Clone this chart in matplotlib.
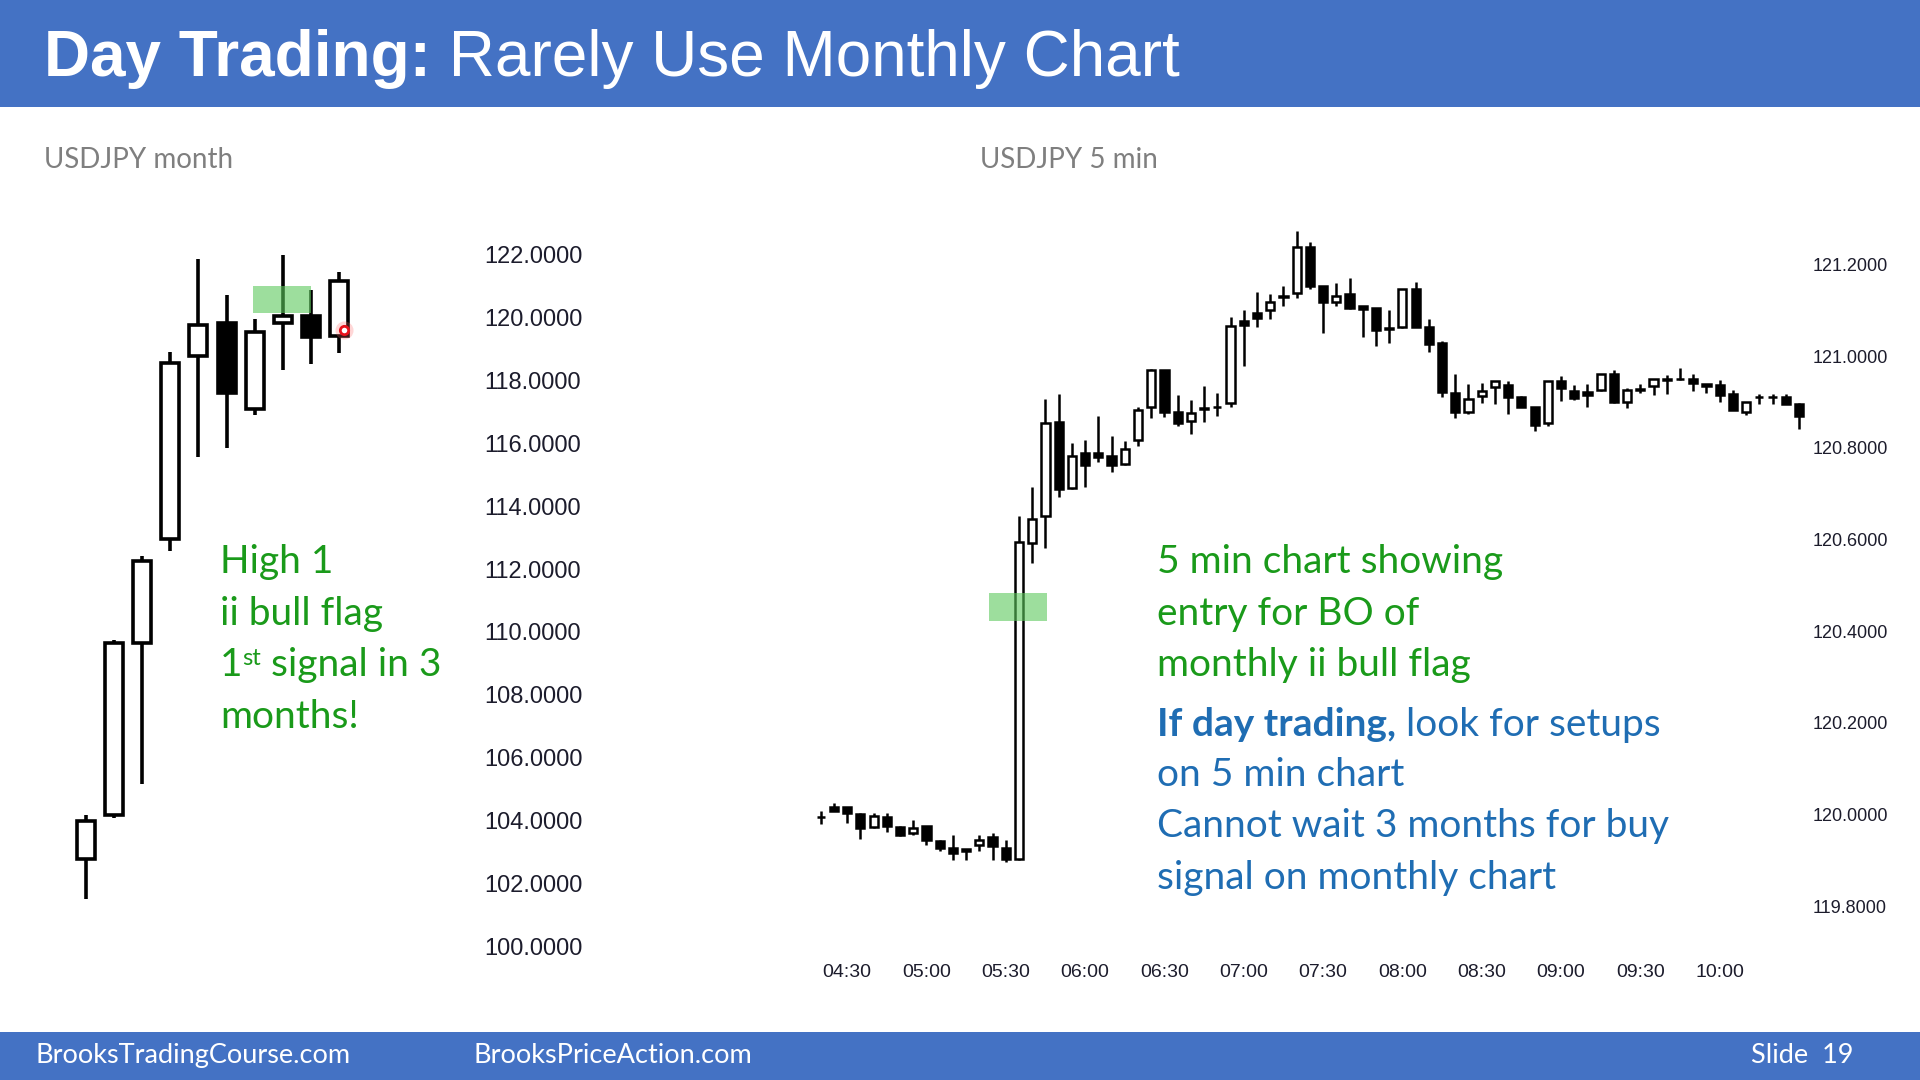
"""Slide 19 - Day trading: rarely use monthly chart (USDJPY month vs 5 min)."""

import numpy as np
import matplotlib
matplotlib.use("Agg")
import matplotlib.pyplot as plt
from matplotlib.patches import Rectangle

W, H = 1920, 1080

BAR_BLUE = "#4472c4"
GREEN_TXT = "#1a9a1a"
BLUE_TXT = "#1f6db3"
GREY_TXT = "#7f7f7f"
AXIS_TXT = "#1c1c2c"
ZONE = "#5cc85c"

SANS = ["Liberation Sans", "DejaVu Sans"]
BODY = ["Lato", "DejaVu Sans"]

# ---- USDJPY monthly bars -------------------------------------------------
m_open = [102.78, 104.17, 109.65, 112.94, 118.77, 119.81, 117.09, 119.82, 120.05, 119.41]
m_high = [104.19, 109.75, 112.40, 118.90, 121.86, 120.73, 119.95, 121.99, 120.86, 121.45]
m_low = [101.51, 104.07, 105.16, 112.56, 115.56, 115.85, 116.89, 118.32, 118.52, 118.86]
m_close = [104.00, 109.64, 112.26, 118.56, 119.75, 117.60, 119.53, 120.05, 119.39, 121.17]
m_ticks = [100, 102, 104, 106, 108, 110, 112, 114, 116, 118, 120, 122]
m_zone = (5.94, 7.98, 120.13, 121.00)   # x0, x1, y0, y1
m_dot = (9.17, 119.61)

# ---- USDJPY 5 min bars (04:20 .. 10:30) -----------------------------------
f_open = [119.995, 120.017, 120.015, 120.000, 119.973, 119.994, 119.973, 119.960, 119.975, 119.942,
          119.927, 119.924, 119.933, 119.951, 119.926, 119.902, 120.593, 120.651, 120.857, 120.712,
          120.788, 120.788, 120.782, 120.764, 120.816, 120.888, 120.969, 120.879, 120.859, 120.884,
          120.889, 120.897, 121.076, 121.093, 121.100, 121.130, 121.138, 121.239, 121.152, 121.117,
          121.136, 121.109, 121.104, 121.061, 121.063, 121.146, 121.064, 121.028, 120.920, 120.879,
          120.913, 120.933, 120.937, 120.910, 120.888, 120.853, 120.946, 120.924, 120.922, 120.926,
          120.962, 120.900, 120.926, 120.934, 120.948, 120.949, 120.951, 120.940, 120.938, 120.918,
          120.878, 120.911, 120.911, 120.911, 120.895]
f_high = [120.008, 120.024, 120.017, 120.002, 120.002, 120.002, 119.975, 119.988, 119.975, 119.944,
          119.955, 119.924, 119.955, 119.959, 119.944, 120.651, 120.715, 120.906, 120.917, 120.811,
          120.817, 120.870, 120.825, 120.815, 120.890, 120.972, 120.969, 120.915, 120.905, 120.935,
          120.920, 121.086, 121.100, 121.140, 121.135, 121.153, 121.272, 121.248, 121.153, 121.160,
          121.170, 121.109, 121.106, 121.101, 121.146, 121.162, 121.080, 121.034, 120.960, 120.940,
          120.942, 120.946, 120.946, 120.913, 120.890, 120.946, 120.956, 120.937, 120.940, 120.962,
          120.970, 120.930, 120.940, 120.951, 120.958, 120.973, 120.962, 120.940, 120.948, 120.927,
          120.900, 120.918, 120.918, 120.918, 120.897]
f_low = [119.980, 120.008, 119.982, 119.946, 119.970, 119.962, 119.953, 119.955, 119.933, 119.921,
         119.900, 119.900, 119.921, 119.900, 119.897, 119.900, 120.548, 120.581, 120.692, 120.710,
         120.715, 120.768, 120.748, 120.763, 120.804, 120.864, 120.868, 120.847, 120.830, 120.857,
         120.869, 120.889, 120.978, 121.063, 121.080, 121.109, 121.126, 121.146, 121.050, 121.109,
         121.102, 121.042, 121.021, 121.029, 121.061, 121.063, 121.010, 120.910, 120.866, 120.874,
         120.897, 120.895, 120.874, 120.890, 120.837, 120.847, 120.902, 120.904, 120.890, 120.924,
         120.897, 120.886, 120.920, 120.915, 120.918, 120.947, 120.924, 120.920, 120.900, 120.882,
         120.871, 120.895, 120.895, 120.895, 120.842]
f_close = [119.994, 120.008, 120.002, 119.970, 119.996, 119.975, 119.955, 119.970, 119.943, 119.926,
           119.916, 119.919, 119.944, 119.930, 119.902, 120.594, 120.644, 120.854, 120.710, 120.782,
           120.763, 120.779, 120.763, 120.798, 120.883, 120.969, 120.879, 120.853, 120.876, 120.886,
           120.890, 121.065, 121.068, 121.084, 121.119, 121.131, 121.237, 121.152, 121.119, 121.131,
           121.104, 121.102, 121.057, 121.060, 121.146, 121.064, 121.026, 120.922, 120.879, 120.906,
           120.924, 120.946, 120.911, 120.890, 120.850, 120.946, 120.930, 120.908, 120.915, 120.960,
           120.900, 120.927, 120.928, 120.951, 120.949, 120.949, 120.942, 120.934, 120.915, 120.882,
           120.900, 120.911, 120.911, 120.895, 120.869]
f_tick_pos = [2, 8, 14, 20, 26, 32, 38, 44, 50, 56, 62, 68]
f_tick_lab = ["04:30", "05:00", "05:30", "06:00", "06:30", "07:00",
              "07:30", "08:00", "08:30", "09:00", "09:30", "10:00"]
f_ticks = [119.8, 120.0, 120.2, 120.4, 120.6, 120.8, 121.0, 121.2]
f_zone = (12.76, 17.12, 120.423, 120.484)


def fx(x):
    return x / W


def fy(y):
    return 1 - y / H


def draw_candles(ax, o, h, l, c, width, lw):
    x = np.arange(len(o))
    ax.vlines(x, l, h, color="black", lw=lw, zorder=2)
    for xi, oi, ci in zip(x, o, c):
        lo, hi = min(oi, ci), max(oi, ci)
        face = "white" if ci > oi else "black"
        ax.add_patch(Rectangle((xi - width / 2, lo), width, hi - lo,
                               facecolor=face, edgecolor="black", lw=lw,
                               joinstyle="miter", zorder=3))


def clean(ax):
    for s in ax.spines.values():
        s.set_visible(False)
    ax.set_facecolor("none")


fig = plt.figure(figsize=(W / 100, H / 100), dpi=100, facecolor="white")

# header / footer bands
fig.patches.append(Rectangle((0, fy(107)), 1, 107 / H, transform=fig.transFigure,
                             facecolor=BAR_BLUE, edgecolor="none", zorder=0))
fig.patches.append(Rectangle((0, 0), 1, 48 / H, transform=fig.transFigure,
                             facecolor=BAR_BLUE, edgecolor="none", zorder=0))

# ---- monthly chart --------------------------------------------------------
ax1 = fig.add_axes([fx(40), fy(970), 430 / W, 750 / H])
draw_candles(ax1, m_open, m_high, m_low, m_close, 0.64, 2.6)
ax1.add_patch(Rectangle((m_zone[0], m_zone[2]), m_zone[1] - m_zone[0], m_zone[3] - m_zone[2],
                        facecolor=ZONE, alpha=0.6, edgecolor="none", zorder=4))
ax1.plot(*m_dot, "o", ms=13, color="#ff6060", alpha=0.25, mec="none", zorder=5)
ax1.plot(*m_dot, "o", ms=6, mfc="white", mec="#e8101a", mew=2, zorder=6)
ax1.set_xlim(-1.62, 13.63)
ax1.set_ylim(99.25, 123.10)
ax1.set_xticks([])
ax1.yaxis.tick_right()
ax1.set_yticks(m_ticks)
ax1.set_yticklabels([f"{v:.4f}" for v in m_ticks], family=SANS, fontsize=17, color=AXIS_TXT)
ax1.tick_params(axis="y", length=0, pad=10)
clean(ax1)

# ---- 5 min chart ----------------------------------------------------------
ax2 = fig.add_axes([fx(805), fy(950), 1001 / W, 730 / H])
draw_candles(ax2, f_open, f_high, f_low, f_close, 0.62, 1.8)
ax2.add_patch(Rectangle((f_zone[0], f_zone[2]), f_zone[1] - f_zone[0], f_zone[3] - f_zone[2],
                        facecolor=ZONE, alpha=0.6, edgecolor="none", zorder=4))
ax2.set_xlim(-1.19, 74.53)
ax2.set_ylim(119.704, 121.297)
ax2.set_xticks(f_tick_pos)
ax2.set_xticklabels(f_tick_lab, family=SANS, fontsize=14, color=AXIS_TXT)
ax2.yaxis.tick_right()
ax2.set_yticks(f_ticks)
ax2.set_yticklabels([f"{v:.4f}" for v in f_ticks], family=SANS, fontsize=13, color=AXIS_TXT)
ax2.tick_params(axis="y", length=0, pad=5)
ax2.tick_params(axis="x", length=0, pad=10)
clean(ax2)

# ---- text -----------------------------------------------------------------
renderer = fig.canvas.get_renderer()


def text_run(x, y, parts):
    """Place text pieces one after another on a common baseline (pixels, top-left origin)."""
    for s, kw in parts:
        dy = kw.pop("dy", 0)
        t = fig.text(fx(x), fy(y - dy), s, va="baseline", ha="left", **kw)
        x = t.get_window_extent(renderer).x1


title_kw = dict(family=SANS, fontsize=46, color="white")
text_run(44, 76, [("Day Trading:", dict(title_kw, weight="bold")),
                  (" Rarely Use Monthly Chart", dict(title_kw))])

foot_kw = dict(family=BODY, fontsize=19.5, color="white")
text_run(35, 1063, [("BrooksTradingCourse.com", dict(foot_kw))])
text_run(474, 1063, [("BrooksPriceAction.com", dict(foot_kw))])
text_run(1751, 1063, [("Slide  19", dict(foot_kw))])

sub_kw = dict(family=BODY, fontsize=20, color=GREY_TXT)
text_run(44, 168, [("USDJPY month", dict(sub_kw))])
text_run(980, 168, [("USDJPY 5 min", dict(sub_kw))])

g_kw = dict(family=BODY, fontsize=28, color=GREEN_TXT)
text_run(220, 573, [("High 1", dict(g_kw))])
text_run(220, 624.5, [("ii bull flag", dict(g_kw))])
text_run(220, 676, [("1", dict(g_kw)),
                    ("st", dict(g_kw, fontsize=17, dy=11)),
                    (" signal in 3", dict(g_kw))])
text_run(220, 727.5, [("months!", dict(g_kw))])

text_run(1157, 573, [("5 min chart showing", dict(g_kw))])
text_run(1157, 624.5, [("entry for BO of", dict(g_kw))])
text_run(1157, 676, [("monthly ii bull flag", dict(g_kw))])

b_kw = dict(family=BODY, fontsize=28, color=BLUE_TXT)
text_run(1157, 736, [("If day trading,", dict(b_kw, weight="bold")),
                     (" look for setups", dict(b_kw))])
text_run(1157, 786, [("on 5 min chart", dict(b_kw))])
text_run(1157, 837.5, [("Cannot wait 3 months for buy", dict(b_kw))])
text_run(1157, 889, [("signal on monthly chart", dict(b_kw))])

fig.savefig("out.png", dpi=100, facecolor="white")
